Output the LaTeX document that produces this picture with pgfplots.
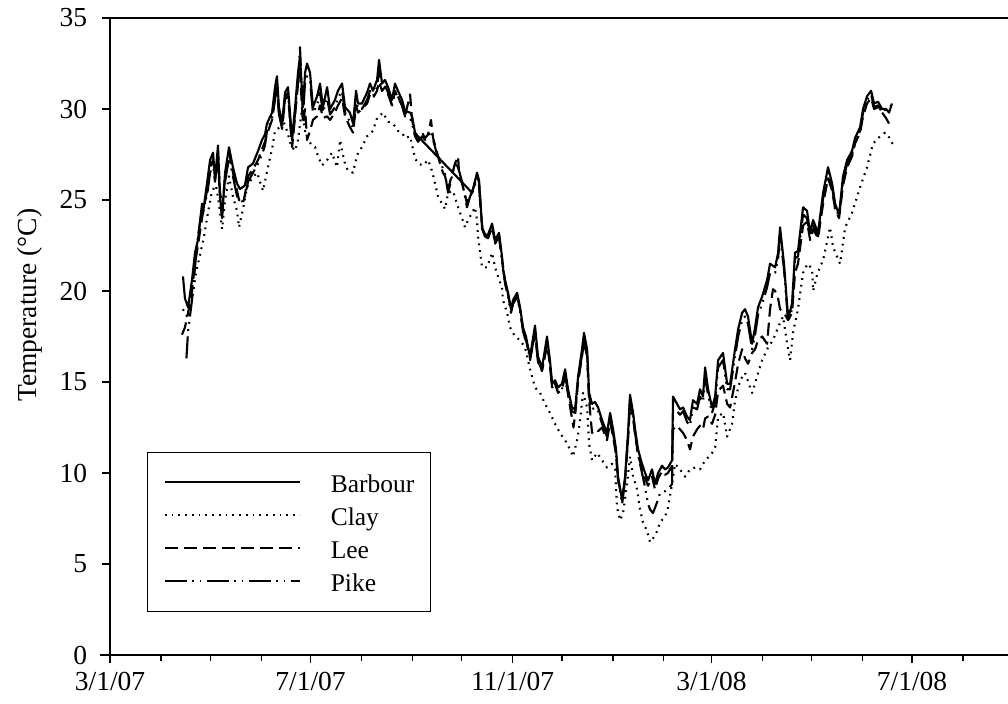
\documentclass[border=0pt]{standalone}
\usepackage{fontspec}
\setmainfont{Liberation Serif}
\usepackage{pgfplots}
\pgfplotsset{compat=1.18}
\begin{document}
\begin{tikzpicture}[font=\fontsize{11pt}{13.2pt}\selectfont]
\begin{axis}[
  scale only axis, width=359.2pt, height=254.8pt,
  xmin=0, xmax=546.4, ymin=0, ymax=35,
  axis x line*=box, axis y line*=left,
  axis line style={-, line width=0.6pt},
  xtick={0,122,245,366,488},
  xticklabels={3/1/07,7/1/07,11/1/07,3/1/08,7/1/08},
  minor xtick={31,61,92,153,184,214,275,306,337,397,427,458,519},
  ytick={0,5,...,35},
  xtick pos=left, ytick pos=left,
  tick align=outside,
  major tick length=3.2pt, minor tick length=2.4pt,
  every tick/.style={black, line width=0.5pt},
  yticklabel style={xshift=-2.4pt},
  /pgf/number format/assume math mode=true,
  ylabel={Temperature (°C)},
  ylabel style={at={(axis description cs:-0.089,0.549)}, anchor=center},
  legend style={at={(0.041,0.0675)}, anchor=south west, draw=black, line width=0.5pt,
    inner xsep=6.5pt, inner ysep=7pt, row sep=3.2pt,
    font=\fontsize{10.2pt}{12pt}\selectfont,
    nodes={inner sep=0pt, text height=9.1pt, text depth=0.9pt}},
  legend image code/.code={\draw[#1] (0pt,0pt) -- (54pt,0pt); \path (66pt,0pt);},
  legend cell align=left,
  every axis plot/.append style={black, line width=0.85pt, line join=round},
]
\coordinate (O) at (rel axis cs:0,0);
% Barbour
\addplot[solid] coordinates {(44.4,20.8)(45.6,19.6)(47.5,19.1)(49.9,20.6)(51.7,22.1)(53.5,22.8)(56.0,24.8)(56.6,24.3)(59.0,25.9)(60.9,27.2)(62.7,27.6)(63.9,26.1)(65.7,28.0)(66.9,25.2)(68.2,24.0)(70.0,26.5)(72.4,27.9)(74.8,26.8)(77.3,25.9)(79.1,25.6)(82.1,25.8)(84.0,26.8)(87.0,27.0)(90.1,27.7)(92.5,28.3)(94.3,28.6)(95.5,29.2)(98.6,29.8)(100.4,31.2)(101.6,31.8)(102.8,30.1)(104.7,29.2)(106.5,30.9)(108.3,31.2)(110.8,28.3)(112.6,30.1)(114.4,32.0)(115.6,32.9)(117.4,30.1)(118.7,32.0)(119.9,32.5)(121.7,32.0)(123.5,30.1)(126.0,30.7)(127.8,31.4)(129.6,30.1)(132.1,31.2)(133.9,30.0)(136.9,30.5)(138.7,31.0)(141.2,31.4)(143.0,30.1)(146.0,29.8)(147.9,29.2)(149.7,31.0)(150.9,30.3)(153.3,30.3)(156.4,30.9)(158.2,31.4)(160.0,31.0)(162.5,31.6)(163.7,32.7)(165.5,31.4)(167.3,31.6)(169.2,31.2)(171.6,30.5)(173.4,31.4)(175.2,31.0)(177.7,30.5)(179.5,29.9)(182.6,29.8)(183.8,29.6)(185.6,28.7)(187.4,28.5)(220.3,25.4)(223.3,26.5)(224.5,26.1)(226.4,23.5)(228.2,23.1)(230.0,23.1)(232.5,23.7)(234.3,22.8)(236.7,23.2)(238.5,21.9)(239.1,21.2)(240.4,20.6)(242.2,19.9)(244.0,19.0)(245.2,19.5)(247.7,19.9)(249.5,19.1)(251.3,18.0)(253.1,17.5)(254.4,16.9)(255.6,16.4)(258.6,18.1)(260.4,16.4)(262.9,15.8)(265.9,17.5)(267.7,16.2)(269.0,14.9)(270.8,15.1)(272.6,14.7)(275.0,14.9)(276.9,15.7)(278.7,14.6)(281.1,13.6)(283.0,13.5)(284.8,15.3)(287.2,16.8)(288.4,17.7)(290.3,16.8)(291.5,14.4)(293.3,13.8)(295.1,13.9)(297.0,13.6)(299.4,12.9)(302.4,12.2)(304.3,13.3)(306.1,12.4)(307.9,11.3)(309.1,9.8)(311.6,8.5)(313.4,9.8)(315.2,12.2)(316.4,14.3)(318.3,13.3)(319.5,12.4)(321.3,11.3)(323.7,10.5)(325.6,10.0)(327.4,9.6)(329.8,10.2)(331.6,9.4)(333.5,10.0)(335.9,10.4)(337.7,10.2)(339.5,10.3)(342.0,10.7)(342.6,14.2)(345.0,13.8)(346.8,13.5)(348.7,13.6)(351.1,13.1)(352.9,12.9)(354.7,14.0)(357.2,13.8)(359.0,14.6)(360.8,14.2)(362.1,15.8)(363.9,14.6)(366.3,13.6)(368.2,14.2)(370.0,16.2)(373.0,16.6)(375.5,14.9)(377.3,14.9)(380.3,16.8)(382.2,17.9)(384.6,18.8)(386.4,19.0)(388.2,18.6)(390.7,17.1)(392.5,18.0)(394.3,19.1)(396.8,19.7)(399.8,20.6)(401.6,21.5)(404.7,21.3)(406.5,22.1)(407.7,23.5)(410.1,21.5)(412.6,18.5)(415.0,19.3)(416.8,22.1)(418.6,22.2)(421.7,24.6)(424.1,24.4)(426.0,23.2)(427.8,23.9)(430.8,23.2)(433.9,25.4)(436.9,26.8)(439.4,25.9)(441.2,24.8)(443.6,24.2)(446.0,26.3)(448.5,27.2)(451.5,27.7)(453.3,28.4)(456.4,29.0)(458.2,30.0)(460.6,30.7)(463.1,31.0)(464.9,30.3)(467.3,30.4)(469.8,30.0)(472.2,30.0)(474.0,29.8)(475.8,30.3)};
\addlegendentry{Barbour}
% Clay
\addplot[dash pattern=on 0.7pt off 2pt] coordinates {(44.4,19.0)(47.5,18.5)(49.9,19.5)(52.3,21.0)(54.8,22.0)(57.2,23.0)(59.6,24.3)(62.1,25.5)(64.5,25.8)(66.3,24.8)(68.2,23.4)(70.0,25.0)(72.4,26.3)(74.8,25.2)(77.3,24.4)(78.5,23.5)(80.9,24.5)(83.4,25.7)(86.4,26.2)(89.5,26.5)(93.1,25.5)(96.1,26.8)(98.6,27.8)(100.4,28.8)(103.4,29.0)(105.3,29.4)(107.7,28.8)(110.1,28.0)(112.6,27.7)(114.4,28.3)(116.8,30.0)(118.7,28.8)(120.5,28.3)(122.9,28.0)(124.8,27.9)(126.6,27.4)(129.0,26.9)(132.1,27.2)(135.1,27.6)(138.1,26.8)(140.0,28.3)(141.2,27.7)(143.0,27.0)(144.8,26.6)(147.9,26.5)(149.1,27.0)(150.9,27.6)(153.3,27.9)(156.4,28.5)(160.0,28.8)(162.5,29.5)(166.1,29.8)(169.2,29.3)(172.2,29.2)(175.2,28.8)(177.7,28.7)(179.5,28.4)(182.6,28.5)(185.6,27.3)(187.4,27.0)(190.5,26.9)(193.5,27.2)(195.9,26.6)(197.8,25.9)(199.6,25.2)(202.0,24.8)(203.9,24.5)(205.7,25.4)(208.7,25.5)(211.8,24.6)(214.2,24.0)(216.0,23.5)(217.9,23.9)(220.3,24.3)(222.1,24.6)(223.3,23.9)(223.9,23.0)(225.2,22.1)(226.4,21.3)(229.4,21.3)(232.5,22.1)(234.3,21.3)(236.1,20.8)(238.5,20.2)(239.1,19.5)(241.6,18.8)(243.4,18.0)(246.4,17.5)(249.5,17.3)(252.5,16.9)(255.6,15.7)(258.6,14.7)(261.7,14.4)(264.7,13.8)(267.7,13.3)(270.8,12.7)(273.8,12.2)(276.9,11.8)(279.9,11.3)(281.7,10.9)(284.2,11.8)(286.0,12.9)(287.8,14.4)(290.3,13.6)(291.5,11.6)(293.3,10.7)(296.4,11.1)(299.4,10.7)(302.4,10.3)(305.5,10.5)(307.3,10.2)(308.5,8.1)(310.4,7.4)(312.2,7.8)(314.6,9.4)(316.4,10.9)(318.3,9.8)(320.7,9.1)(322.5,8.0)(324.3,7.3)(326.8,6.8)(328.6,6.2)(330.4,6.4)(332.9,6.8)(334.7,7.3)(337.7,7.6)(339.5,8.1)(342.0,9.4)(343.8,10.5)(346.8,10.2)(349.9,9.8)(352.9,10.2)(356.0,10.3)(359.0,10.2)(362.1,10.7)(364.5,10.9)(366.3,11.1)(368.2,11.4)(370.0,13.1)(373.0,13.3)(375.5,12.0)(378.5,12.7)(380.3,14.0)(383.4,15.1)(386.4,15.5)(390.7,14.4)(393.7,15.3)(396.8,16.2)(400.4,16.9)(403.4,17.3)(406.5,18.0)(409.5,18.6)(412.0,17.1)(413.8,16.2)(415.6,17.7)(418.6,19.0)(421.7,21.0)(424.5,21.5)(427.2,21.2)(427.8,20.0)(430.5,21.0)(433.9,21.7)(438.1,23.5)(440.0,22.4)(444.2,21.5)(447.3,23.5)(451.5,24.3)(456.4,25.7)(460.6,26.8)(464.3,28.1)(468.5,28.5)(471.6,28.7)(474.5,28.4)(477.1,27.9)};
\addlegendentry{Clay}
% Lee
\addplot[dash pattern=on 5.2pt off 2.4pt] coordinates {(43.8,17.6)(45.6,18.0)(47.5,18.8)(49.9,20.0)(51.7,21.5)(53.5,22.5)(56.0,24.0)(59.0,25.5)(60.9,26.8)(62.7,27.2)(63.9,26.4)(65.7,27.6)(66.9,25.5)(68.2,24.6)(70.0,26.2)(72.4,27.6)(74.8,26.5)(77.3,25.5)(78.5,25.0)(80.9,24.8)(82.1,25.3)(84.0,26.3)(87.0,26.7)(90.1,27.2)(92.5,27.8)(94.3,28.2)(95.5,28.6)(98.6,29.4)(100.4,30.6)(101.6,31.2)(102.8,29.8)(104.7,28.9)(106.5,30.5)(108.3,30.8)(110.8,27.9)(112.6,29.6)(114.4,31.4)(115.6,32.0)(117.4,29.2)(118.7,30.0)(119.9,28.3)(121.7,28.8)(123.5,29.4)(126.0,29.6)(127.8,30.2)(129.6,29.5)(132.1,29.6)(133.9,29.4)(136.9,29.8)(138.7,30.2)(141.2,30.6)(143.0,29.6)(146.0,29.0)(147.9,28.7)(149.7,30.2)(150.9,29.8)(153.3,30.0)(156.4,30.3)(158.2,30.8)(160.0,30.6)(162.5,31.0)(163.7,31.5)(165.5,31.0)(167.3,31.2)(169.2,30.8)(171.6,30.2)(173.4,31.0)(175.2,30.6)(177.7,30.2)(179.5,29.6)(182.6,30.8)(183.8,29.4)(185.6,28.6)(187.4,28.3)(189.9,28.7)(191.7,28.4)(193.5,28.6)(195.3,29.4)(196.6,28.4)(199.0,27.6)(200.8,27.0)(202.6,26.5)(203.9,26.3)(205.7,25.6)(208.1,26.4)(209.9,27.0)(211.8,27.4)(212.5,26.3)(214.2,25.9)(216.0,25.3)(217.2,24.8)(219.1,25.3)(220.9,25.6)(223.3,26.3)(224.5,26.0)(226.4,23.6)(228.2,23.0)(230.0,23.0)(232.5,23.5)(234.3,22.7)(236.7,23.0)(238.5,21.8)(240.4,20.5)(242.2,19.8)(244.0,18.9)(245.2,19.3)(247.7,19.7)(249.5,19.0)(251.3,17.9)(253.1,17.3)(254.4,16.8)(255.6,16.3)(258.6,17.6)(260.4,16.2)(262.9,15.6)(265.9,17.0)(267.7,16.0)(269.0,14.8)(270.8,14.9)(272.6,14.4)(275.0,14.6)(276.9,15.3)(278.7,14.3)(281.1,13.0)(282.0,12.5)(283.0,13.2)(284.8,15.0)(287.2,16.4)(288.4,17.2)(290.3,16.4)(291.5,14.0)(293.3,12.2)(295.1,12.4)(297.0,12.3)(299.4,12.5)(302.4,11.8)(304.3,12.8)(306.1,12.0)(307.9,11.0)(309.1,9.6)(311.6,8.6)(313.4,9.6)(315.2,11.8)(316.4,13.8)(318.3,13.0)(319.5,12.1)(321.3,11.0)(323.7,10.2)(325.6,9.7)(327.4,9.3)(329.8,9.8)(331.6,9.1)(333.5,9.7)(335.9,10.1)(337.7,9.9)(339.5,10.0)(342.0,10.4)(342.6,12.4)(345.0,12.6)(346.8,12.4)(348.7,12.2)(351.1,11.8)(352.9,11.3)(354.7,12.0)(357.2,12.4)(359.0,12.6)(360.8,12.4)(362.1,13.0)(363.9,13.1)(366.3,12.7)(368.2,13.2)(370.0,14.5)(373.0,14.8)(375.5,13.8)(377.3,13.6)(380.3,15.0)(382.2,16.0)(384.6,16.8)(386.4,16.3)(388.2,16.0)(390.7,16.6)(392.5,16.8)(394.3,17.3)(396.8,17.5)(399.8,17.1)(401.6,19.0)(403.4,20.1)(404.7,20.0)(406.5,19.6)(407.7,19.0)(410.1,18.8)(412.6,18.4)(415.0,18.8)(416.8,21.0)(418.6,21.5)(421.7,23.6)(424.1,23.8)(426.0,22.8)(427.8,23.4)(430.8,22.9)(433.9,24.8)(436.9,26.2)(439.4,25.5)(441.2,24.5)(443.6,24.0)(446.0,25.8)(448.5,26.8)(451.5,27.4)(453.3,28.1)(456.4,28.7)(458.2,29.6)(460.6,30.3)(463.1,30.6)(464.9,30.0)(467.3,30.1)(469.8,29.8)(472.2,29.5)(474.0,29.2)};
\addlegendentry{Lee}
% Pike
\addplot[dash pattern=on 8.8pt off 2.2pt on 0.7pt off 2.2pt on 0.7pt off 2.2pt] coordinates {(46.5,16.3)(47.5,17.8)(49.9,19.5)(51.7,21.3)(53.5,23.0)(56.0,24.5)(59.0,25.2)(60.9,26.5)(62.7,27.0)(63.9,26.0)(65.7,27.5)(66.9,25.0)(68.2,24.2)(70.0,26.0)(72.4,27.3)(74.8,26.3)(77.3,25.2)(79.1,25.0)(80.9,24.9)(82.1,25.2)(84.0,26.0)(87.0,26.5)(90.1,27.0)(92.5,27.5)(94.3,28.0)(95.5,28.8)(98.6,29.5)(100.4,30.5)(101.6,31.3)(102.8,29.7)(104.7,29.0)(106.5,30.6)(108.3,30.9)(110.8,28.0)(112.6,29.8)(114.4,31.6)(115.6,33.4)(117.4,29.6)(118.7,31.5)(119.9,31.8)(121.7,31.5)(123.5,29.8)(126.0,30.2)(127.8,30.9)(129.6,29.8)(132.1,30.6)(133.9,29.7)(136.9,30.1)(138.7,30.6)(141.2,31.0)(143.0,29.8)(146.0,29.3)(147.9,28.9)(149.7,30.6)(150.9,30.0)(153.3,30.0)(156.4,30.5)(158.2,31.0)(160.0,30.7)(162.5,31.2)(163.7,32.2)(165.5,31.0)(167.3,31.3)(169.2,30.9)(171.6,30.2)(173.4,31.0)(175.2,30.7)(177.7,30.2)(179.5,29.6)(182.6,29.5)(183.8,29.2)(185.6,28.5)(187.4,28.2)(189.9,28.5)(191.7,28.3)(193.5,28.5)(195.3,28.8)(196.6,28.3)(199.0,27.5)(200.8,27.2)(202.6,26.7)(203.9,26.4)(205.7,25.4)(208.1,26.3)(209.9,27.0)(211.8,26.8)(214.2,26.0)(216.0,25.2)(217.2,24.6)(219.1,25.2)(220.9,25.5)(223.3,26.2)(224.5,25.8)(226.4,23.4)(228.2,23.0)(230.0,22.9)(232.5,23.5)(234.3,22.6)(236.7,23.0)(238.5,21.7)(240.4,20.4)(242.2,19.7)(244.0,18.8)(245.2,19.3)(247.7,19.7)(249.5,18.9)(251.3,17.8)(253.1,17.2)(254.4,16.8)(255.6,16.2)(258.6,17.8)(260.4,16.1)(262.9,15.6)(265.9,17.2)(267.7,15.9)(269.0,14.7)(270.8,14.8)(272.6,14.5)(275.0,14.6)(276.9,15.4)(278.7,14.4)(281.1,13.4)(283.0,13.3)(284.8,15.1)(287.2,16.5)(288.4,17.4)(290.3,16.5)(291.5,14.2)(293.3,13.5)(295.1,13.6)(297.0,13.4)(299.4,12.7)(302.4,12.0)(304.3,13.0)(306.1,12.2)(307.9,11.1)(309.1,9.7)(311.6,8.3)(313.4,9.6)(315.2,12.0)(316.4,14.0)(318.3,13.1)(319.5,12.2)(321.3,11.0)(323.7,10.0)(325.6,9.2)(327.4,8.3)(328.6,8.0)(330.4,7.8)(332.9,8.4)(334.7,8.9)(337.7,9.0)(339.5,9.1)(342.0,9.4)(342.6,13.5)(345.0,13.4)(346.8,13.2)(348.7,13.4)(351.1,12.8)(352.9,12.6)(354.7,13.6)(357.2,13.5)(359.0,14.2)(360.8,13.9)(362.1,15.2)(363.9,14.3)(366.3,13.3)(368.2,13.9)(370.0,15.8)(373.0,16.2)(375.5,14.6)(377.3,14.6)(380.3,16.4)(382.2,17.5)(384.6,18.4)(386.4,18.6)(388.2,18.2)(390.7,16.8)(392.5,17.6)(394.3,18.7)(396.8,19.3)(399.8,20.2)(401.6,21.0)(404.7,21.0)(406.5,21.8)(407.7,23.0)(410.1,21.2)(412.6,18.3)(415.0,19.0)(416.8,21.8)(418.6,21.9)(421.7,24.2)(424.1,24.0)(426.0,23.0)(427.8,23.6)(430.8,23.0)(433.9,25.1)(436.9,26.5)(439.4,25.7)(441.2,24.6)(443.6,24.1)(446.0,26.0)(448.5,27.0)(451.5,27.5)(453.3,28.2)(456.4,28.8)(458.2,29.8)(460.6,30.5)(463.1,30.8)(464.9,30.1)(467.3,30.2)(469.8,29.8)(472.2,30.0)(475.8,30.2)};
\addlegendentry{Pike}
\end{axis}
\draw[line width=0.6pt] (O) -- ++(-4pt,0);
\pgfresetboundingbox
\path[use as bounding box] (O) ++(-44pt,-19.2pt) rectangle ++(403.2pt,281.2pt);
\end{tikzpicture}
\end{document}
